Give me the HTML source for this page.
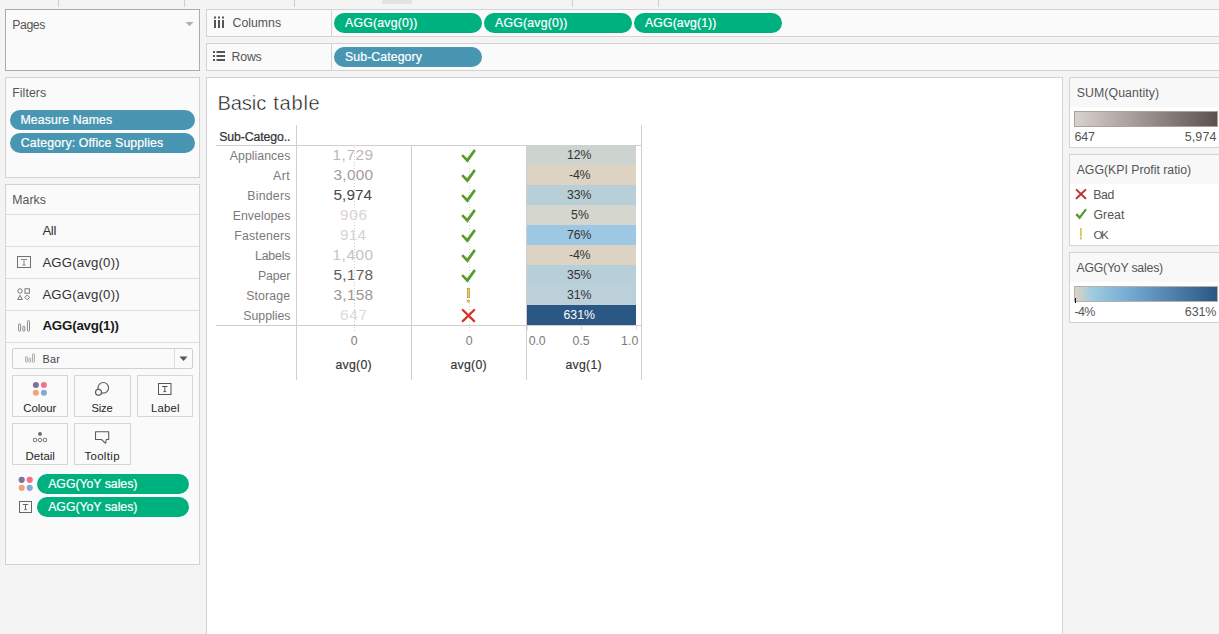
<!DOCTYPE html>
<html><head><meta charset="utf-8">
<style>
*{box-sizing:border-box;margin:0;padding:0}
html,body{width:1219px;height:634px;overflow:hidden;background:#f4f4f4;font-family:"Liberation Sans",sans-serif;font-size:12px;color:#4a4a4a}
.a{position:absolute}
.x{position:absolute;white-space:nowrap;line-height:20px;font-family:"Liberation Sans",sans-serif}
.panel{position:absolute;background:#fafafa;border:1px solid #d3d3d3}
.pill{position:absolute;height:20px;border-radius:10px}
.g{background:#00b180}
.b{background:#4996b2}
.vl{position:absolute;width:1px;background:#cfcfcf}
.hl{position:absolute;height:1px;background:#cfcfcf}
.btn{position:absolute;width:56px;height:42px;border:1px solid #d6d6d6;background:#fafafa}
.bar{position:absolute;left:527px;width:109px;height:20px}
</style></head><body>
<!-- top strip -->
<div class="vl" style="left:58px;top:0;height:7px"></div>
<div class="vl" style="left:184px;top:0;height:7px"></div>
<div class="vl" style="left:294px;top:0;height:7px"></div>
<div class="vl" style="left:572px;top:0;height:7px"></div>
<div class="vl" style="left:658px;top:0;height:7px"></div>
<div class="a" style="left:382px;top:0;width:30px;height:4px;background:#e3e3e3"></div>

<!-- Pages -->
<div class="panel" style="left:5px;top:9px;width:195px;height:62px;border-color:#ababab"></div>
<svg class="a" style="left:185px;top:21px" width="9" height="6"><path d="M0.5 1 L8.5 1 L4.5 5.2Z" fill="#b0b0b0"/></svg>

<!-- Columns / Rows shelves -->
<div class="panel" style="left:206px;top:9px;width:1020px;height:28px"></div>
<div class="panel" style="left:206px;top:43px;width:1020px;height:28px"></div>
<div class="vl" style="left:331px;top:10px;height:26px;background:#d3d3d3"></div>
<div class="vl" style="left:331px;top:44px;height:26px;background:#d3d3d3"></div>
<svg class="a" style="left:213px;top:16px" width="12" height="13"><g fill="#555"><rect x="1" y="0.5" width="2" height="2"/><rect x="5" y="0.5" width="2" height="2"/><rect x="9" y="0.5" width="2" height="2"/><rect x="1" y="4" width="2" height="8"/><rect x="5" y="4" width="2" height="8"/><rect x="9" y="4" width="2" height="8"/></g></svg>
<svg class="a" style="left:213px;top:51px" width="13" height="11"><g fill="#555"><rect x="0" y="0" width="2" height="2"/><rect x="0" y="4" width="2" height="2"/><rect x="0" y="8" width="2" height="2"/><rect x="3.5" y="0" width="8.5" height="2"/><rect x="3.5" y="4" width="8.5" height="2"/><rect x="3.5" y="8" width="8.5" height="2"/></g></svg>
<div class="pill g" style="left:334px;top:13px;width:148px"></div>
<div class="pill g" style="left:484px;top:13px;width:148px"></div>
<div class="pill g" style="left:634px;top:13px;width:148px"></div>
<div class="pill b" style="left:334px;top:47px;width:148px"></div>

<!-- Filters -->
<div class="panel" style="left:5px;top:77px;width:195px;height:101px"></div>
<div class="pill b" style="left:10px;top:110px;width:185px"></div>
<div class="pill b" style="left:10px;top:133px;width:185px"></div>

<!-- Marks -->
<div class="panel" style="left:5px;top:184px;width:195px;height:381px"></div>
<div class="hl" style="left:6px;top:214px;width:193px;background:#dedede"></div>
<div class="hl" style="left:6px;top:246px;width:193px;background:#dedede"></div>
<div class="hl" style="left:6px;top:278px;width:193px;background:#dedede"></div>
<div class="hl" style="left:6px;top:310px;width:193px;background:#dedede"></div>
<div class="hl" style="left:6px;top:342px;width:193px;background:#dedede"></div>
<!-- icons for mark rows -->
<svg class="a" style="left:17px;top:256px" width="15" height="13"><rect x="0.5" y="0.5" width="13" height="11" fill="none" stroke="#6e6e6e" stroke-width="1"/><path d="M4 3.5 H10 M7 3.5 V9 M5.5 9 H8.5" stroke="#888" stroke-width="1" fill="none"/></svg>
<svg class="a" style="left:17px;top:288px" width="14" height="13"><g fill="none" stroke="#777" stroke-width="1"><circle cx="3" cy="3" r="2.2"/><rect x="8" y="0.8" width="4.4" height="4.4"/><path d="M0.6 11.5 L3 7.3 L5.4 11.5Z"/><path d="M10.2 7 L12.6 9.4 L10.2 11.8 L7.8 9.4Z"/></g></svg>
<svg class="a" style="left:18px;top:320px" width="13" height="13"><g fill="none" stroke="#8a8a8a" stroke-width="1"><rect x="0.6" y="3.9" width="2" height="7.3" rx="0.7"/><rect x="4.8" y="6.3" width="2" height="4.9" rx="0.7"/><rect x="9.4" y="0.7" width="2.1" height="10.5" rx="0.7"/></g></svg>

<!-- dropdown -->
<div class="a" style="left:12px;top:348px;width:181px;height:21px;border:1px solid #cfcfcf;border-radius:2px;background:#fafafa"></div>
<div class="vl" style="left:174px;top:349px;height:19px;background:#dcdcdc"></div>
<svg class="a" style="left:179px;top:356px" width="9" height="6"><path d="M0.5 0.5 L8.5 0.5 L4.5 5Z" fill="#555"/></svg>
<svg class="a" style="left:25px;top:353px" width="11" height="11"><g fill="none" stroke="#ababab" stroke-width="1"><rect x="0.6" y="3.6" width="1.7" height="5.6" rx="0.6"/><rect x="3.9" y="5" width="1.8" height="4.2" rx="0.6"/><rect x="7.5" y="0.8" width="1.9" height="8.4" rx="0.6"/></g></svg>

<!-- buttons -->
<div class="btn" style="left:12px;top:375px"></div>
<div class="btn" style="left:74px;top:375px;width:57px"></div>
<div class="btn" style="left:137px;top:375px"></div>
<div class="btn" style="left:12px;top:423px"></div>
<div class="btn" style="left:74px;top:423px;width:57px"></div>
<!-- button icons -->
<svg class="a" style="left:32px;top:381px" width="16" height="16"><circle cx="3.9" cy="4.1" r="3" fill="#80709d"/><circle cx="11.9" cy="4.1" r="3" fill="#f1728a"/><circle cx="3.9" cy="11.8" r="3" fill="#f0a47c"/><circle cx="11.9" cy="11.8" r="3" fill="#86a9d4"/></svg>
<svg class="a" style="left:94px;top:381px" width="17" height="16"><g fill="none" stroke="#5c5c5c" stroke-width="1.15"><circle cx="9.3" cy="6.8" r="5.3"/><circle cx="4.5" cy="11.3" r="3" fill="#fafafa"/></g></svg>
<svg class="a" style="left:158px;top:383px" width="15" height="13"><rect x="0.5" y="0.5" width="12.5" height="11" fill="none" stroke="#555"/><path d="M4 3.5 H9.6 M6.8 3.5 V8.6 M5.4 8.6 H8.2" stroke="#555" fill="none"/></svg>
<svg class="a" style="left:32px;top:430px" width="16" height="14"><circle cx="8" cy="3.9" r="1.9" fill="#666"/><g fill="none" stroke="#666" stroke-width="0.9"><circle cx="3" cy="10" r="1.8"/><circle cx="8" cy="10" r="1.8"/><circle cx="13" cy="10" r="1.8"/></g></svg>
<svg class="a" style="left:94px;top:430px" width="16" height="16"><path d="M1.5 1.7 H14.7 V9.5 H12.2 L11.7 13.3 L7.4 9.5 H1.5Z" fill="none" stroke="#5c5c5c" stroke-width="1.1" stroke-linejoin="round"/></svg>

<!-- marks pills -->
<svg class="a" style="left:18px;top:476px" width="16" height="16"><circle cx="3.7" cy="3.8" r="3.1" fill="#80709d"/><circle cx="11.7" cy="3.8" r="3.1" fill="#f1728a"/><circle cx="3.7" cy="11.8" r="3.1" fill="#f0a47c"/><circle cx="11.7" cy="11.8" r="3.1" fill="#86a9d4"/></svg>
<svg class="a" style="left:19px;top:501px" width="14" height="13"><rect x="0.5" y="0.5" width="12" height="11" fill="none" stroke="#666"/><path d="M3.8 3.5 H9.2 M6.5 3.5 V8.6 M5.2 8.6 H7.8" stroke="#666" fill="none"/></svg>
<div class="pill g" style="left:37px;top:474px;width:152px"></div>
<div class="pill g" style="left:37px;top:497px;width:152px"></div>

<!-- Canvas -->
<div class="a" style="left:206px;top:77px;width:857px;height:570px;background:#fff;border:1px solid #d3d3d3"></div>
<div class="vl" style="left:296px;top:125px;height:255px"></div>
<div class="vl" style="left:411px;top:145px;height:235px"></div>
<div class="vl" style="left:526px;top:145px;height:235px"></div>
<div class="vl" style="left:641px;top:125px;height:255px"></div>
<div class="hl" style="left:216px;top:145px;width:426px"></div>
<div class="hl" style="left:216px;top:325px;width:426px"></div>
<!-- ticks -->
<div class="vl" style="left:527px;top:326px;height:4px;background:#e0e0e0"></div>
<div class="vl" style="left:581px;top:326px;height:4px;background:#e0e0e0"></div>
<div class="vl" style="left:636px;top:326px;height:4px;background:#e0e0e0"></div>

<div class="bar" style="top:145px;background:#cdd3cf"></div>
<div class="bar" style="top:165px;background:#ddd3c3"></div>
<div class="bar" style="top:185px;background:#b9cfd8"></div>
<div class="bar" style="top:205px;background:#d5d6ce"></div>
<div class="bar" style="top:225px;background:#9cc8e3"></div>
<div class="bar" style="top:245px;background:#ddd3c3"></div>
<div class="bar" style="top:265px;background:#b7cfd9"></div>
<div class="bar" style="top:285px;background:#bbd0d8"></div>
<div class="bar" style="top:305px;background:#2a5783"></div>

<!-- Legends -->
<div class="panel" style="left:1069px;top:77px;width:160px;height:71px;background:#fff"></div>
<div class="a" style="left:1070px;top:78px;width:150px;height:29px;background:#f8f8f8"></div>
<div class="a" style="left:1074px;top:111px;width:144px;height:16px;border:1px solid #aaa396;background:linear-gradient(90deg,#dad2ce,#5a5250)"></div>

<div class="panel" style="left:1069px;top:154px;width:160px;height:92px;background:#fff"></div>
<div class="a" style="left:1070px;top:155px;width:150px;height:29px;background:#f8f8f8"></div>
<svg class="a" style="left:1074px;top:187px" width="14" height="56">
<path d="M2.6 2.9 L11.4 11.3 M11.4 2.9 L2.6 11.3" stroke="#b8352b" stroke-width="2" stroke-linecap="round" fill="none"/>
<path d="M1.4 27.9 L3.2 26.2 L5.6 28.8 L11.2 21.6 L12.8 23.0 L5.7 32.5Z" fill="#5a9b2f"/>
<rect x="6.1" y="41.4" width="1.6" height="7.8" fill="#f0cf55" stroke="#b9a468" stroke-width="0.3"/>
<rect x="6.1" y="50.7" width="1.6" height="1.6" fill="#e9c850" stroke="#b9a468" stroke-width="0.3"/>
</svg>

<div class="panel" style="left:1069px;top:252px;width:160px;height:71px;background:#fff"></div>
<div class="a" style="left:1070px;top:253px;width:150px;height:29px;background:#f8f8f8"></div>
<div class="a" style="left:1074px;top:286px;width:144px;height:16px;border:1px solid #b8b0a2;background:linear-gradient(90deg,#ddd3c3 0%,#9ccae4 13%,#6fa5cf 42%,#2a5783 100%)"></div>
<div class="a" style="left:1075px;top:298px;width:1px;height:5px;background:#111"></div>

<div class="x" style="left:12.20px;top:15px;font-size:12.3px;color:#555555;letter-spacing:-0.405px">Pages</div>
<div class="x" style="left:232.60px;top:13px;font-size:12.3px;color:#555555;letter-spacing:-0.012px">Columns</div>
<div class="x" style="left:231.60px;top:47px;font-size:12.3px;color:#555555;letter-spacing:-0.200px">Rows</div>
<div class="x" style="left:12.20px;top:83px;font-size:12.3px;color:#555555;letter-spacing:0.079px">Filters</div>
<div class="x" style="left:12.20px;top:190px;font-size:12.3px;color:#555555;letter-spacing:0.069px">Marks</div>
<div class="x" style="left:345.00px;top:13px;font-size:12.3px;color:#ffffff;letter-spacing:0.202px;-webkit-text-stroke:0.2px #fff">AGG(avg(0))</div>
<div class="x" style="left:495.00px;top:13px;font-size:12.3px;color:#ffffff;letter-spacing:0.202px;-webkit-text-stroke:0.2px #fff">AGG(avg(0))</div>
<div class="x" style="left:645.00px;top:13px;font-size:12.3px;color:#ffffff;letter-spacing:0.102px;-webkit-text-stroke:0.2px #fff">AGG(avg(1))</div>
<div class="x" style="left:345.00px;top:47px;font-size:12.3px;color:#ffffff;letter-spacing:0.089px;-webkit-text-stroke:0.2px #fff">Sub-Category</div>
<div class="x" style="left:20.50px;top:110px;font-size:12.3px;color:#ffffff;letter-spacing:0.120px;-webkit-text-stroke:0.2px #fff">Measure Names</div>
<div class="x" style="left:20.80px;top:133px;font-size:12.3px;color:#ffffff;letter-spacing:0.131px;-webkit-text-stroke:0.2px #fff">Category: Office Supplies</div>
<div class="x" style="left:48.20px;top:474px;font-size:12.3px;color:#ffffff;letter-spacing:-0.028px;-webkit-text-stroke:0.2px #fff">AGG(YoY sales)</div>
<div class="x" style="left:48.20px;top:497px;font-size:12.3px;color:#ffffff;letter-spacing:-0.028px;-webkit-text-stroke:0.2px #fff">AGG(YoY sales)</div>
<div class="x" style="left:42.40px;top:221px;font-size:13.2px;color:#333333;letter-spacing:-0.313px">All</div>
<div class="x" style="left:42.40px;top:253px;font-size:13.2px;color:#333333;letter-spacing:0.172px">AGG(avg(0))</div>
<div class="x" style="left:42.40px;top:285px;font-size:13.2px;color:#333333;letter-spacing:0.172px">AGG(avg(0))</div>
<div class="x" style="left:42.40px;top:316px;font-size:13.4px;color:#1a1a1a;letter-spacing:-0.240px;font-weight:bold">AGG(avg(1))</div>
<div class="x" style="left:42.60px;top:349px;font-size:10.8px;color:#444444;letter-spacing:0.197px">Bar</div>
<div class="x" style="left:23.30px;top:398px;font-size:11.4px;color:#262626;letter-spacing:-0.112px">Colour</div>
<div class="x" style="left:91.60px;top:398px;font-size:11.2px;color:#262626;letter-spacing:-0.247px">Size</div>
<div class="x" style="left:151.00px;top:398px;font-size:11.4px;color:#262626;letter-spacing:0.165px">Label</div>
<div class="x" style="left:25.60px;top:446px;font-size:11.4px;color:#262626;letter-spacing:0.022px">Detail</div>
<div class="x" style="left:84.40px;top:446px;font-size:11.4px;color:#262626;letter-spacing:0.368px">Tooltip</div>
<div class="x" style="left:217.40px;top:93px;font-size:20.2px;color:#141414;letter-spacing:-0.118px;-webkit-text-stroke:0.45px #ffffff">Basic</div>
<div class="x" style="left:273.30px;top:93px;font-size:20.2px;color:#141414;letter-spacing:0.688px;-webkit-text-stroke:0.45px #ffffff">table</div>
<div class="x" style="left:219.20px;top:127px;font-size:12.3px;color:#333333;letter-spacing:-0.113px;-webkit-text-stroke:0.22px #333">Sub-Catego..</div>
<div class="x" style="left:229.80px;top:146px;font-size:12.3px;color:#7a7a7a;letter-spacing:0.043px">Appliances</div>
<div class="x" style="left:273.10px;top:166px;font-size:12.3px;color:#7a7a7a;letter-spacing:0.402px">Art</div>
<div class="x" style="left:247.30px;top:186px;font-size:12.3px;color:#7a7a7a;letter-spacing:0.226px">Binders</div>
<div class="x" style="left:232.80px;top:206px;font-size:12.3px;color:#7a7a7a;letter-spacing:0.015px">Envelopes</div>
<div class="x" style="left:234.30px;top:226px;font-size:12.3px;color:#7a7a7a;letter-spacing:0.172px">Fasteners</div>
<div class="x" style="left:255.00px;top:246px;font-size:12.3px;color:#7a7a7a;letter-spacing:-0.178px">Labels</div>
<div class="x" style="left:258.00px;top:266px;font-size:12.3px;color:#7a7a7a;letter-spacing:-0.130px">Paper</div>
<div class="x" style="left:246.20px;top:286px;font-size:12.3px;color:#7a7a7a;letter-spacing:0.128px">Storage</div>
<div class="x" style="left:243.30px;top:306px;font-size:12.3px;color:#7a7a7a;letter-spacing:-0.017px">Supplies</div>
<div class="x" style="left:332.50px;top:145px;font-size:15.4px;color:#bfb7b3;letter-spacing:0.536px">1,729</div>
<div class="x" style="left:333.50px;top:165px;font-size:15.4px;color:#a69c98;letter-spacing:0.286px">3,000</div>
<div class="x" style="left:333.50px;top:185px;font-size:15.4px;color:#4d4644;letter-spacing:0.036px">5,974</div>
<div class="x" style="left:340.00px;top:205px;font-size:15.4px;color:#dad3d0;letter-spacing:0.690px">906</div>
<div class="x" style="left:340.00px;top:225px;font-size:15.4px;color:#d9d2cf;letter-spacing:0.190px">914</div>
<div class="x" style="left:332.50px;top:245px;font-size:15.4px;color:#c9c1bd;letter-spacing:0.536px">1,400</div>
<div class="x" style="left:333.50px;top:265px;font-size:15.4px;color:#655d5a;letter-spacing:0.286px">5,178</div>
<div class="x" style="left:333.50px;top:285px;font-size:15.4px;color:#a0968f;letter-spacing:0.286px">3,158</div>
<div class="x" style="left:340.00px;top:305px;font-size:15.4px;color:#e0d9d6;letter-spacing:0.690px">647</div>
<div class="x" style="left:567.00px;top:145px;font-size:12.3px;color:#333333;letter-spacing:-0.089px">12%</div>
<div class="x" style="left:569.00px;top:165px;font-size:12.3px;color:#333333;letter-spacing:-0.217px">-4%</div>
<div class="x" style="left:567.00px;top:185px;font-size:12.3px;color:#333333;letter-spacing:-0.089px">33%</div>
<div class="x" style="left:571.00px;top:205px;font-size:12.3px;color:#333333;letter-spacing:0.161px">5%</div>
<div class="x" style="left:567.00px;top:225px;font-size:12.3px;color:#333333;letter-spacing:-0.089px">76%</div>
<div class="x" style="left:569.00px;top:245px;font-size:12.3px;color:#333333;letter-spacing:-0.217px">-4%</div>
<div class="x" style="left:567.00px;top:265px;font-size:12.3px;color:#333333;letter-spacing:-0.089px">35%</div>
<div class="x" style="left:567.00px;top:285px;font-size:12.3px;color:#333333;letter-spacing:-0.089px">31%</div>
<div class="x" style="left:563.50px;top:305px;font-size:12.3px;color:#ffffff;letter-spacing:-0.006px">631%</div>
<div class="x" style="left:350.80px;top:331px;font-size:12.3px;color:#7b7b7b;letter-spacing:0.000px">0</div>
<div class="x" style="left:465.80px;top:331px;font-size:12.3px;color:#7b7b7b;letter-spacing:0.000px">0</div>
<div class="x" style="left:528.70px;top:331px;font-size:12.3px;color:#7b7b7b;letter-spacing:-0.128px">0.0</div>
<div class="x" style="left:572.60px;top:331px;font-size:12.3px;color:#7b7b7b;letter-spacing:-0.028px">0.5</div>
<div class="x" style="left:621.00px;top:331px;font-size:12.3px;color:#7b7b7b;letter-spacing:0.172px">1.0</div>
<div class="x" style="left:335.50px;top:355px;font-size:12.3px;color:#333333;letter-spacing:0.248px;-webkit-text-stroke:0.15px #333">avg(0)</div>
<div class="x" style="left:450.50px;top:355px;font-size:12.3px;color:#333333;letter-spacing:0.248px;-webkit-text-stroke:0.15px #333">avg(0)</div>
<div class="x" style="left:565.50px;top:355px;font-size:12.3px;color:#333333;letter-spacing:0.248px;-webkit-text-stroke:0.15px #333">avg(1)</div>
<div class="x" style="left:1076.70px;top:83px;font-size:12.3px;color:#555555;letter-spacing:0.099px">SUM(Quantity)</div>
<div class="x" style="left:1074.50px;top:127px;font-size:12.5px;color:#555555;letter-spacing:-0.152px">647</div>
<div class="x" style="left:1184.70px;top:127px;font-size:12.5px;color:#555555;letter-spacing:0.118px">5,974</div>
<div class="x" style="left:1076.70px;top:160px;font-size:12.3px;color:#555555;letter-spacing:-0.015px">AGG(KPI Profit ratio)</div>
<div class="x" style="left:1093.20px;top:185px;font-size:12.3px;color:#555555;letter-spacing:-0.370px">Bad</div>
<div class="x" style="left:1093.50px;top:205px;font-size:12.3px;color:#555555;letter-spacing:0.041px">Great</div>
<div class="x" style="left:1093.60px;top:225px;font-size:11.7px;color:#555555;letter-spacing:-1.600px">OK</div>
<div class="x" style="left:1076.40px;top:258px;font-size:12.3px;color:#555555;letter-spacing:-0.213px">AGG(YoY sales)</div>
<div class="x" style="left:1074.50px;top:302px;font-size:12.5px;color:#555555;letter-spacing:-0.657px">-4%</div>
<div class="x" style="left:1184.80px;top:302px;font-size:12.5px;color:#555555;letter-spacing:-0.119px">631%</div>

<!-- dotted zero lines (drawn over text like the target) -->
<svg class="a" style="left:354px;top:147px" width="1" height="184"><line x1="0.5" y1="0" x2="0.5" y2="185" stroke="#cccccc" stroke-width="1" stroke-dasharray="1 2"/></svg>
<svg class="a" style="left:469px;top:147px" width="1" height="184"><line x1="0.5" y1="0" x2="0.5" y2="185" stroke="#d2d2d2" stroke-width="1" stroke-dasharray="1 2"/></svg>

<!-- shapes -->
<svg class="a" style="left:460px;top:145px" width="18" height="180">
<path transform="translate(0 0)" d="M13.97 4.1 L15.87 6.0 L7.54 17.8 L1.23 11.04 L2.93 9.15 L7.16 13.25Z" fill="#5a9b2f"/><path transform="translate(0 20)" d="M13.97 4.1 L15.87 6.0 L7.54 17.8 L1.23 11.04 L2.93 9.15 L7.16 13.25Z" fill="#5a9b2f"/><path transform="translate(0 40)" d="M13.97 4.1 L15.87 6.0 L7.54 17.8 L1.23 11.04 L2.93 9.15 L7.16 13.25Z" fill="#5a9b2f"/><path transform="translate(0 60)" d="M13.97 4.1 L15.87 6.0 L7.54 17.8 L1.23 11.04 L2.93 9.15 L7.16 13.25Z" fill="#5a9b2f"/><path transform="translate(0 80)" d="M13.97 4.1 L15.87 6.0 L7.54 17.8 L1.23 11.04 L2.93 9.15 L7.16 13.25Z" fill="#5a9b2f"/><path transform="translate(0 100)" d="M13.97 4.1 L15.87 6.0 L7.54 17.8 L1.23 11.04 L2.93 9.15 L7.16 13.25Z" fill="#5a9b2f"/><path transform="translate(0 120)" d="M13.97 4.1 L15.87 6.0 L7.54 17.8 L1.23 11.04 L2.93 9.15 L7.16 13.25Z" fill="#5a9b2f"/>
<rect x="7.3" y="143.3" width="2.3" height="9.4" fill="#f5d64e" stroke="#a89040" stroke-width="0.7"/>
<circle cx="8.35" cy="156.1" r="1.2" fill="#f5d64e" stroke="#a89040" stroke-width="0.7"/>
<path d="M2.8 165.0 L14.2 176.1 M14.2 165.0 L2.8 176.1" stroke="#d5362b" stroke-width="2.3" stroke-linecap="round" fill="none"/>
</svg>

</body></html>
